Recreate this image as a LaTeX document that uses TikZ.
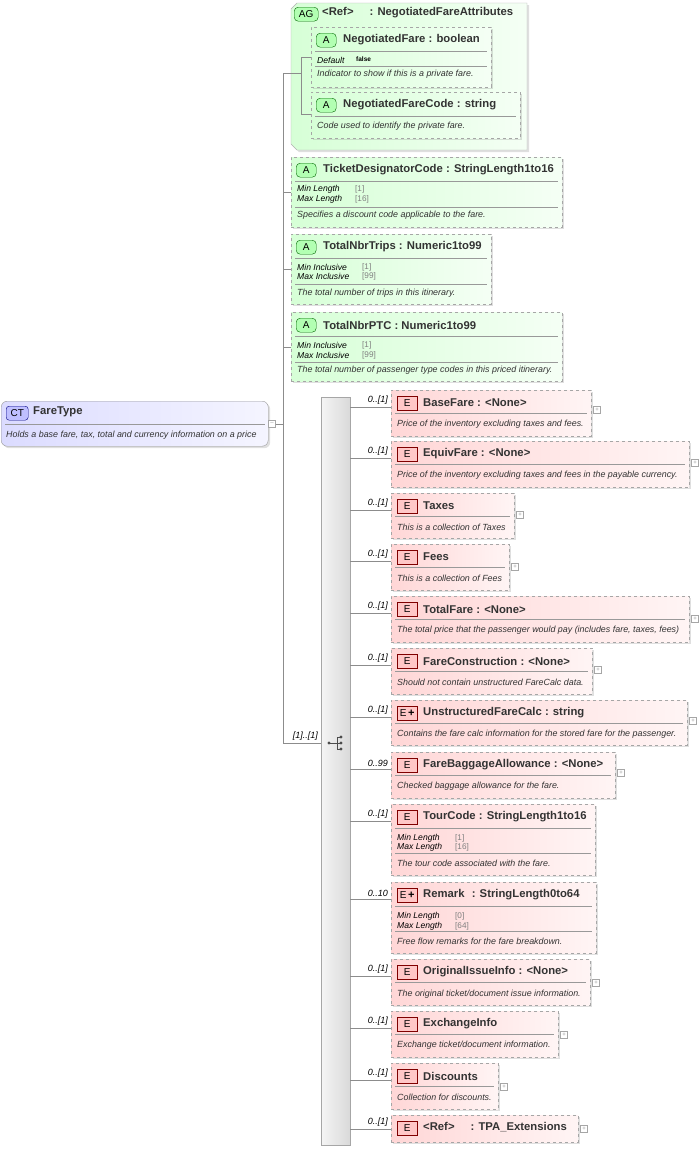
\documentclass[tikz,border=0pt]{standalone}
\usepackage{fontspec}
\setmainfont{Liberation Sans}
\usetikzlibrary{shadows}
\begin{document}
\begin{tikzpicture}[x=1pt,y=-1pt,
  box/.style={draw=black!35,dashed,anchor=north west,inner sep=0pt,drop shadow={opacity=0.25,shadow xshift=2pt,shadow yshift=-2pt}},
  ebox/.style={box,left color=red!16,right color=red!4},
  abox/.style={box,left color=green!16,right color=green!4},
  badgeE/.style={draw=red!50!black,fill=red!22,inner sep=0pt,minimum width=20pt,minimum height=14pt,font=\fontsize{10}{10}\selectfont,anchor=north west},
  badgeA/.style={draw=green!40!black,fill=green!30,rounded corners=4pt,inner sep=0pt,minimum width=20pt,minimum height=14pt,font=\fontsize{10}{10}\selectfont,anchor=north west},
  ttl/.style={anchor=west,inner sep=0pt,font=\bfseries\fontsize{11.3}{12}\selectfont,text=black!80},
  dsc/.style={anchor=west,inner sep=0pt,font=\itshape\fontsize{8.9}{9}\selectfont,text=black!80},
  fac/.style={anchor=west,inner sep=0pt,font=\itshape\fontsize{8.6}{9}\selectfont},
  fv/.style={anchor=west,inner sep=0pt,font=\fontsize{8.2}{9}\selectfont,text=black!50},
  sep/.style={draw=black!40},
  lnk/.style={draw=black!45},
  card/.style={anchor=south east,inner sep=1pt,font=\itshape\fontsize{9}{9}\selectfont},
  plusb/.style={draw=black!35,fill=white,minimum size=7pt,inner sep=0pt,font=\fontsize{6}{6}\selectfont,text=black!40}
]
\useasboundingbox (0,0) rectangle (700,1149);
\fill[white] (0,0) rectangle (700,1149);

\newcommand\mybox[8]{%
  \node[#1,minimum width=#5pt,minimum height=#6pt] (#2) at (#3,#4) {};
  \node[#7] (#2b) at (#3+5,#4+6) {A};
  \node[ttl] (#2t) at (#3+32,#4+13) {#8};
}
\newcommand\eplus[3]{\node[plusb] (#1p) at (#2+6,#3) {+};}

% ---------- CT box
\node[draw=black!40,rounded corners=6pt,left color=blue!14,right color=blue!4,minimum width=267pt,minimum height=45pt,anchor=north west,drop shadow={opacity=0.25,shadow xshift=2pt,shadow yshift=-2pt}] (ct) at (1,401) {};
\node[draw=blue!50!black,fill=blue!25,rounded corners=3pt,minimum width=22pt,minimum height=14pt,inner sep=0pt,anchor=north west,font=\fontsize{10}{10}\selectfont] (ctb) at (6,406) {CT};
\node[ttl] (ctt) at (33,412) {FareType};
\draw[sep] (5,424) -- (265,424);
\node[dsc] (ctd) at (6,435) {Holds a base fare, tax, total and currency information on a price};
\node[plusb] (ctm) at (272,424) {--};

% ---------- trunk
\coordinate (t0) at (283,73);
\coordinate (t1) at (283,743);
\draw[lnk] (ctm.east) -- (283,424);
\draw[lnk] (t0) -- (t1);

% ---------- AG
\draw[abox,solid,draw=black!30] (297,3) -- (527,3) -- (527,150) -- (297,150) -- (291,144) -- (291,9) -- cycle;
\node[badgeA,minimum width=24pt] (agb) at (294,7) {AG};
\node[ttl] (agt) at (322,13) {<Ref>\hspace{16pt}: NegotiatedFareAttributes};
\mybox{abox}{nf}{311}{27}{180}{60}{badgeA}{NegotiatedFare : boolean}
\draw[sep] (315,51) -- (487,51); \draw[sep] (315,66) -- (487,66);
\node[fac] (nff) at (317,60) {Default}; \node[fv,text=black,font=\bfseries\fontsize{6.5}{7}\selectfont] (nfv) at (356,59) {false};
\node[dsc] (nfd) at (317,74) {Indicator to show if this is a private fare.};
\mybox{abox}{nfc}{311}{92}{209}{46}{badgeA}{NegotiatedFareCode : string}
\draw[sep] (315,116) -- (516,116);
\node[dsc] (nfcd) at (317,126) {Code used to identify the private fare.};
\draw[lnk] (t0) -- (301,73);
\draw[lnk] (311,57) -- (301,57) -- (301,114) -- (311,114);

% ---------- attribute boxes
\mybox{abox}{tdc}{291}{157}{271}{70}{badgeA}{TicketDesignatorCode : StringLength1to16}
\draw[sep] (295,181) -- (558,181); \draw[sep] (295,207) -- (558,207);
\node[fac] at (297,189) {Min Length}; \node[fv] at (355,189) {[1]};
\node[fac] at (297,199) {Max Length}; \node[fv] at (355,199) {[16]};
\node[dsc] at (297,215) {Specifies a discount code applicable to the fare.};
\draw[lnk] (283,192) -- (291,192);

\mybox{abox}{tnt}{291}{234}{200}{70}{badgeA}{TotalNbrTrips : Numeric1to99}
\draw[sep] (295,258) -- (487,258); \draw[sep] (295,284) -- (487,284);
\node[fac] at (297,267) {Min Inclusive}; \node[fv] at (362,267) {[1]};
\node[fac] at (297,276) {Max Inclusive}; \node[fv] at (362,276) {[99]};
\node[dsc] at (297,293) {The total number of trips in this itinerary.};
\draw[lnk] (283,269) -- (291,269);

\mybox{abox}{tnp}{291}{312}{271}{69}{badgeA}{TotalNbrPTC : Numeric1to99}
\draw[sep] (295,336) -- (558,336); \draw[sep] (295,362) -- (558,362);
\node[fac] at (297,345) {Min Inclusive}; \node[fv] at (362,345) {[1]};
\node[fac] at (297,355) {Max Inclusive}; \node[fv] at (362,355) {[99]};
\node[dsc] at (297,370) {The total number of passenger type codes in this priced itinerary.};
\draw[lnk] (283,347) -- (291,347);

% ---------- sequence
\node[draw=black!35,left color=black!4,right color=black!15,minimum width=29pt,minimum height=748pt,anchor=north west,inner sep=0pt] (seq) at (321,397) {};
\draw[lnk] (t1) -- (321,743);
\node[card] (c0) at (319,742) {[1]..[1]};
\fill[black!70] (329,743) circle (1.6);
\draw[black!70] (329,743) -- (337,743) (337,737) -- (337,749) (337,737) -- (341,737) (337,749) -- (341,749) (337,743) -- (341,743);
\fill[black!70] (341,737) circle (1.6) (341,743) circle (1.6) (341,749) circle (1.6);

\newcommand\el[6]{%
  \node[ebox,minimum width=#3pt,minimum height=#4pt] (#1) at (391,#2) {};
  \draw[lnk] (350,#2+17) -- (391,#2+17);
  \node[card] (#1c) at (389,#2+16) {#5};
  \node[ttl] (#1t) at (423,#2+13) {#6};
}
\newcommand\badge[3]{\node[badgeE] (#1b) at (397,#2+6) {#3};}

\el{bf}{390}{200}{46}{0..[1]}{BaseFare : <None>}\badge{bf}{390}{E}
\draw[sep] (395,413) -- (587,413); \node[dsc] at (397,424) {Price of the inventory excluding taxes and fees.}; \eplus{bf}{591}{410}

\el{eq}{441}{298}{46}{0..[1]}{EquivFare : <None>}\badge{eq}{441}{E}
\draw[sep] (395,464) -- (685,464); \node[dsc] at (397,475) {Price of the inventory excluding taxes and fees in the payable currency.}; \eplus{eq}{689}{463}

\el{tx}{493}{123}{45}{0..[1]}{Taxes}\badge{tx}{493}{E}
\draw[sep] (395,516) -- (510,516); \node[dsc] at (397,527) {This is a collection of Taxes}; \eplus{tx}{514}{515}

\el{fe}{544}{118}{46}{0..[1]}{Fees}\badge{fe}{544}{E}
\draw[sep] (395,567) -- (505,567); \node[dsc] at (397,578) {This is a collection of Fees}; \eplus{fe}{509}{567}

\el{tf}{596}{298}{46}{0..[1]}{TotalFare : <None>}\badge{tf}{596}{E}
\draw[sep] (395,619) -- (685,619); \node[dsc] at (397,630) {The total price that the passenger would pay (includes fare, taxes, fees)}; \eplus{tf}{689}{619}

\el{fc}{648}{201}{46}{0..[1]}{FareConstruction : <None>}\badge{fc}{648}{E}
\draw[sep] (395,671) -- (588,671); \node[dsc] at (397,682) {Should not contain unstructured FareCalc data.}; \eplus{fc}{592}{670}

\el{uf}{700}{296}{45}{0..[1]}{UnstructuredFareCalc : string}\badge{uf}{700}{E\,{\bfseries\fontsize{11}{10}\selectfont+}}
\draw[sep] (395,723) -- (683,723); \node[dsc] at (397,734) {Contains the fare calc information for the stored fare for the passenger.}; \eplus{uf}{687}{721}

\el{fb}{752}{224}{46}{0..99}{FareBaggageAllowance : <None>}\badge{fb}{752}{E}
\draw[sep] (395,775) -- (611,775); \node[dsc] at (397,786) {Checked baggage allowance for the fare.}; \eplus{fb}{615}{773}

\el{tc}{804}{204}{71}{0..[1]}{TourCode : StringLength1to16}\badge{tc}{804}{E}
\draw[sep] (395,828) -- (591,828); \draw[sep] (395,853) -- (591,853);
\node[fac] at (397,838) {Min Length}; \node[fv] at (455,838) {[1]};
\node[fac] at (397,847) {Max Length}; \node[fv] at (455,847) {[16]};
\node[dsc] at (397,863) {The tour code associated with the fare.};

\el{rm}{882}{205}{71}{0..10}{Remark\hspace{4pt} : StringLength0to64}\badge{rm}{882}{E\,{\bfseries\fontsize{11}{10}\selectfont+}}
\draw[sep] (395,906) -- (592,906); \draw[sep] (395,931) -- (592,931);
\node[fac] at (397,916) {Min Length}; \node[fv] at (455,916) {[0]};
\node[fac] at (397,926) {Max Length}; \node[fv] at (455,926) {[64]};
\node[dsc] at (397,941) {Free flow remarks for the fare breakdown.};

\el{oi}{959}{199}{46}{0..[1]}{OriginalIssueInfo : <None>}\badge{oi}{959}{E}
\draw[sep] (395,982) -- (586,982); \node[dsc] at (397,994) {The original ticket/document issue information.}; \eplus{oi}{590}{983}

\el{ex}{1011}{167}{46}{0..[1]}{ExchangeInfo}\badge{ex}{1011}{E}
\draw[sep] (395,1034) -- (554,1034); \node[dsc] at (397,1045) {Exchange ticket/document information.}; \eplus{ex}{558}{1035}

\el{di}{1063}{107}{46}{0..[1]}{Discounts}\badge{di}{1063}{E}
\draw[sep] (395,1086) -- (494,1086); \node[dsc] at (397,1097) {Collection for discounts.}; \eplus{di}{498}{1087}

\node[ebox,minimum width=187pt,minimum height=27pt] (tpa) at (391,1115) {};
\draw[lnk] (350,1129) -- (tpa.west|-350,1129);
\node[card] (tpac) at (389,1128) {0..[1]};
\node[badgeE] (tpab) at (397,1121) {E};
\node[ttl] (tpat) at (423,1127) {<Ref>\hspace{16pt}: TPA\_Extensions};
\eplus{tpa}{578}{1129}
\end{tikzpicture}
\end{document}
